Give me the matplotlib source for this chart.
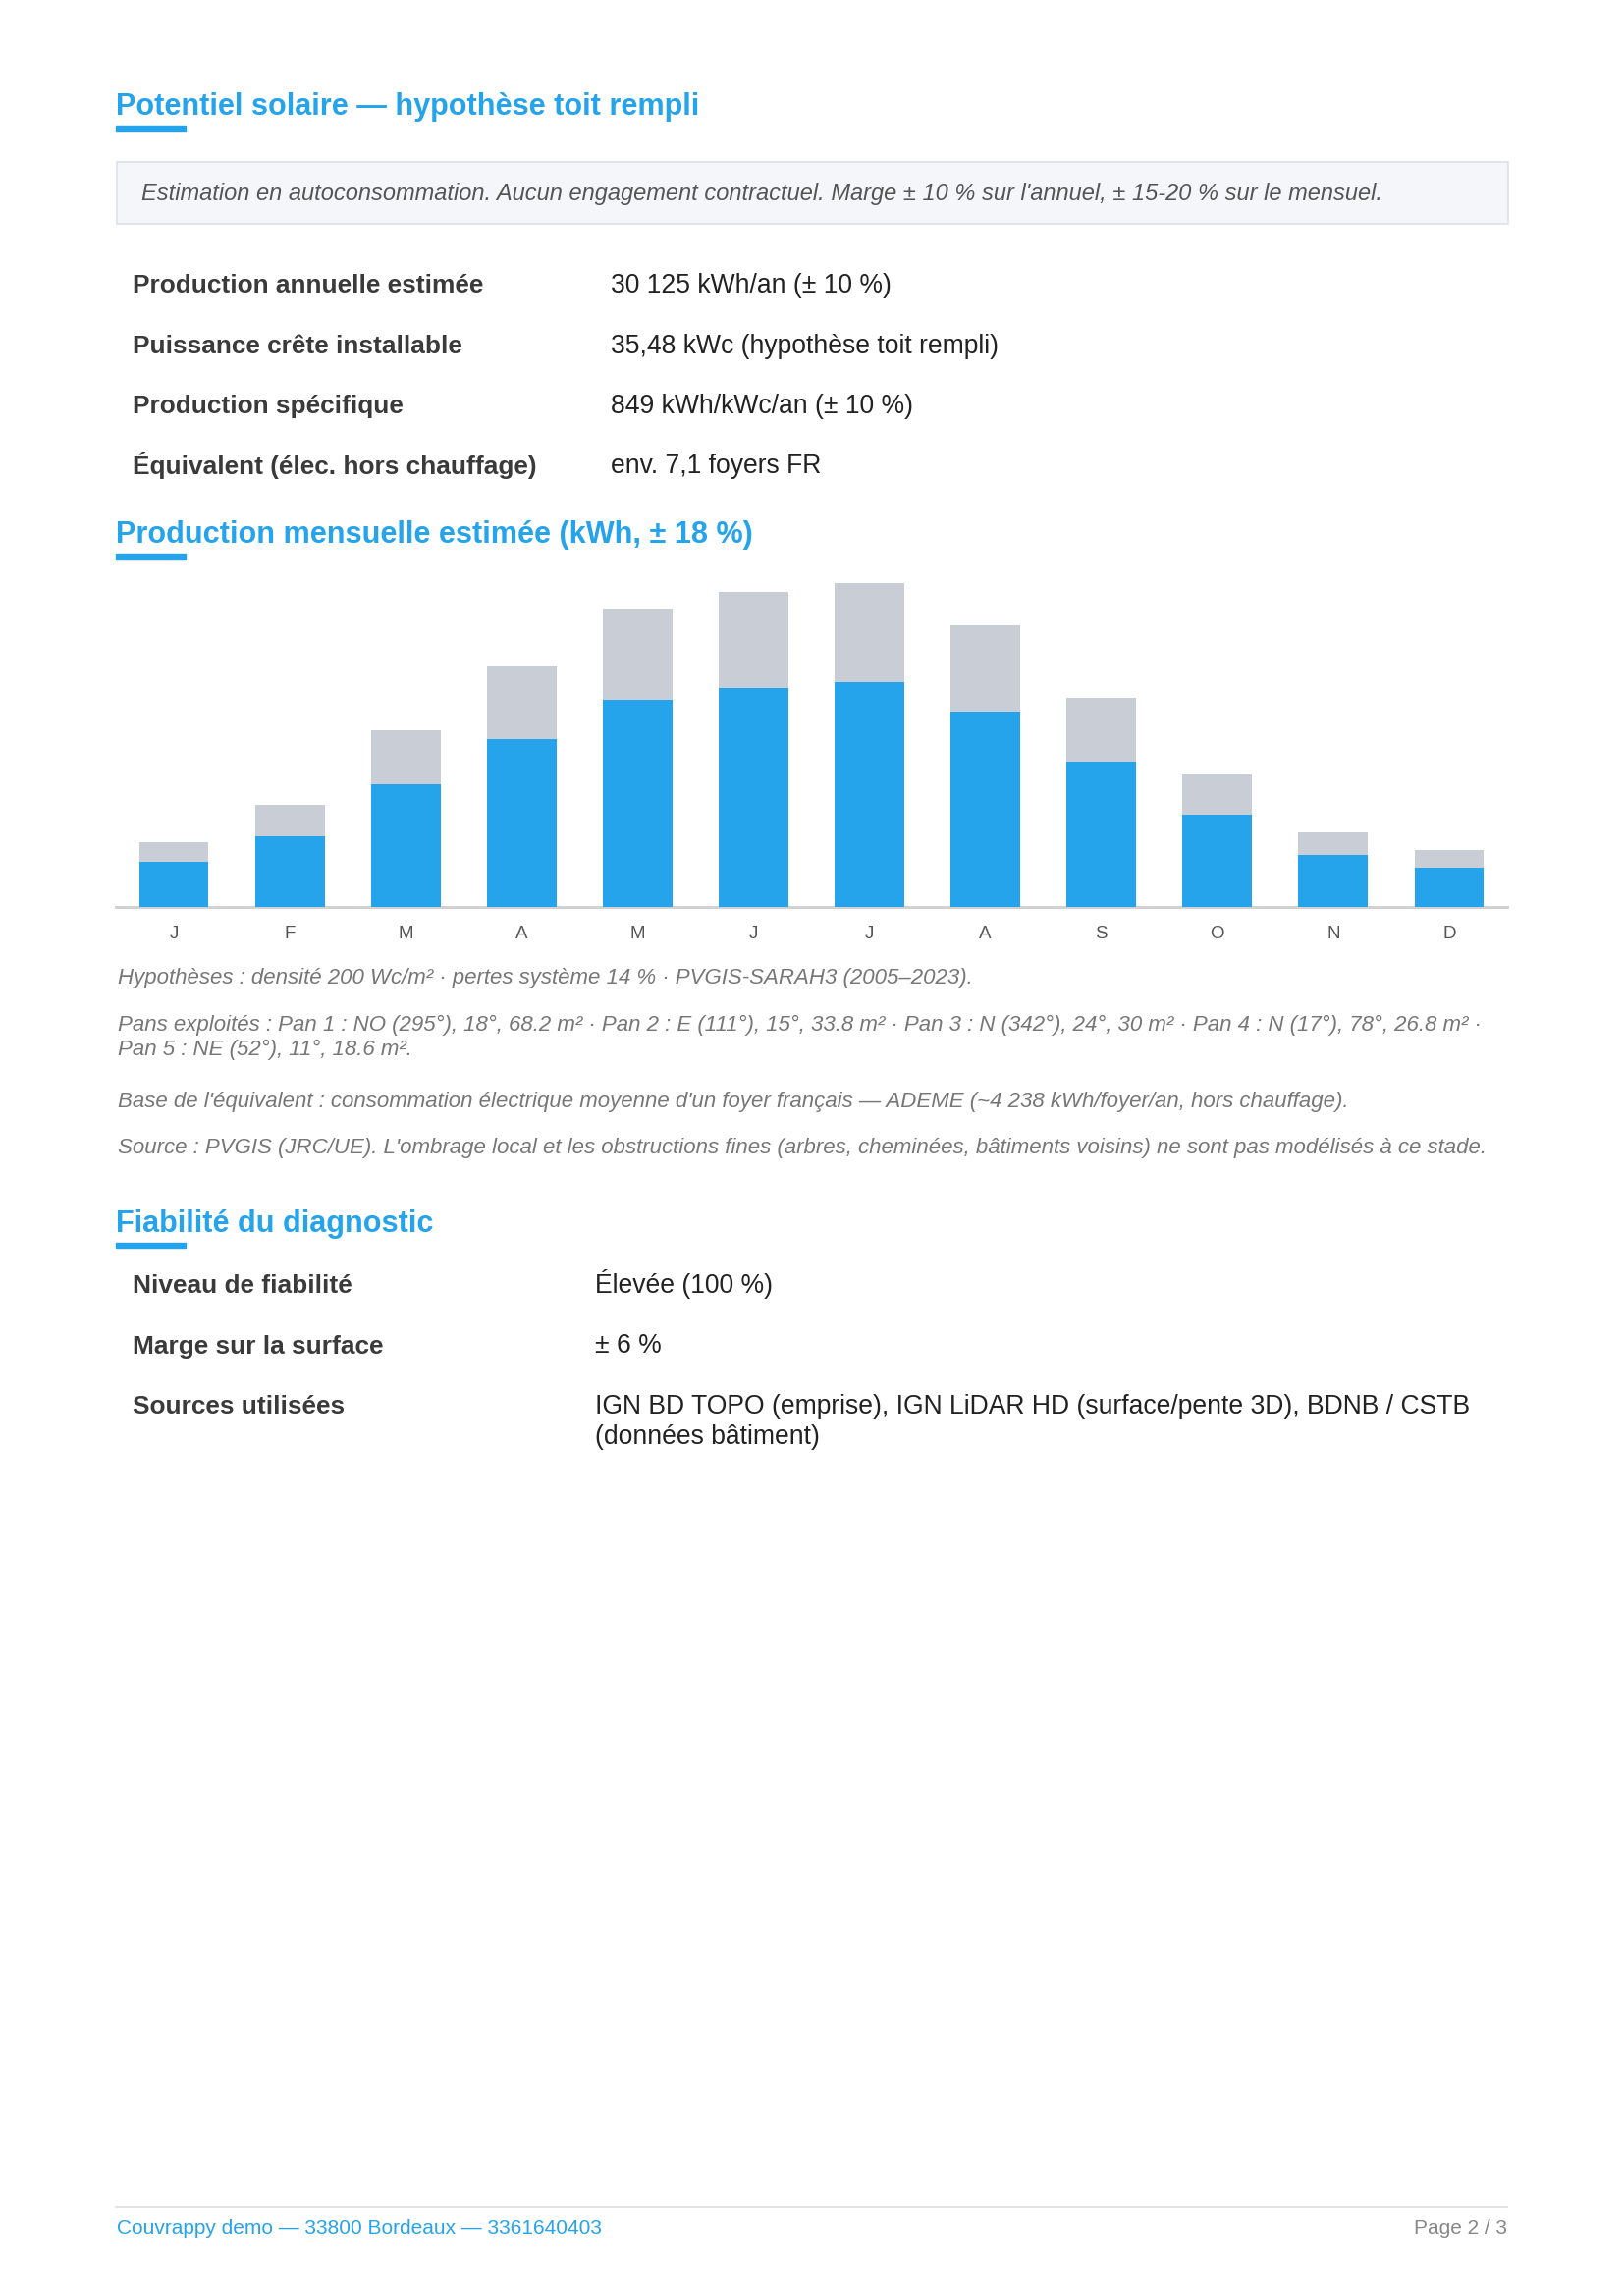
import matplotlib
matplotlib.use("Agg")
import matplotlib.pyplot as plt
from matplotlib.patches import Rectangle

W, H = 1654, 2339
LEFT, RIGHT = 118, 1535

BLUE = "#25a3eb"
GREY_BAR = "#c9ced6"

# monthly production, low bound (blue) and high bound (grey), kWh
months = ["J", "F", "M", "A", "M", "J", "J", "A", "S", "O", "N", "D"]
prod_low = [705, 1104, 1916, 2622, 3236, 3419, 3511, 3051, 2269, 1442, 813, 613]
prod_high = [1015, 1588, 2758, 3774, 4656, 4921, 5053, 4391, 3265, 2074, 1169, 883]

summary_labels = ["Production annuelle estimée", "Puissance crête installable",
                  "Production spécifique", "Équivalent (élec. hors chauffage)"]
summary_values = ["30 125 kWh/an (± 10 %)", "35,48 kWc (hypothèse toit rempli)",
                  "849 kWh/kWc/an (± 10 %)", "env. 7,1 foyers FR"]

fiab_labels = ["Niveau de fiabilité", "Marge sur la surface", "Sources utilisées"]
fiab_values = ["Élevée (100 %)", "± 6 %",
               "IGN BD TOPO (emprise), IGN LiDAR HD (surface/pente 3D), BDNB / CSTB\n(données bâtiment)"]

note = ("Estimation en autoconsommation. Aucun engagement contractuel. "
        "Marge ± 10 % sur l'annuel, ± 15-20 % sur le mensuel.")
footnotes = [
    "Hypothèses : densité 200 Wc/m² · pertes système 14 % · PVGIS-SARAH3 (2005–2023).",
    "Pans exploités : Pan 1 : NO (295°), 18°, 68.2 m² · Pan 2 : E (111°), 15°, 33.8 m² · "
    "Pan 3 : N (342°), 24°, 30 m² · Pan 4 : N (17°), 78°, 26.8 m² ·\nPan 5 : NE (52°), 11°, 18.6 m².",
    "Base de l'équivalent : consommation électrique moyenne d'un foyer français — ADEME "
    "(~4 238 kWh/foyer/an, hors chauffage).",
    "Source : PVGIS (JRC/UE). L'ombrage local et les obstructions fines (arbres, cheminées, "
    "bâtiments voisins) ne sont pas modélisés à ce stade.",
]

plt.rcParams['font.family'] = ['Liberation Sans', 'DejaVu Sans']

fig = plt.figure(figsize=(W / 100, H / 100), dpi=100)
fig.patch.set_facecolor("white")


def fx(x):
    return x / W


def fy(y):
    return 1 - y / H


def txt(x, y, s, size, color, weight="normal", style="normal", ha="left"):
    # y is the baseline in pixels from the top
    fig.text(fx(x), fy(y), s, fontsize=size, color=color, fontweight=weight,
             fontstyle=style, ha=ha, va="baseline")


def section_title(y, s):
    txt(LEFT, y, s, 22.1, BLUE, weight="bold")
    fig.patches.append(Rectangle((fx(LEFT), fy(y + 16)), fx(71), 5 / H,
                                 transform=fig.transFigure, color=BLUE))


# section 1
section_title(117, "Potentiel solaire — hypothèse toit rempli")
fig.patches.append(Rectangle((fx(LEFT + 0.5), fy(228)), fx(RIGHT - LEFT), 63 / H,
                             transform=fig.transFigure,
                             facecolor="#f4f6f9", edgecolor="#dde0e6", linewidth=1.2))
txt(144, 204, note, 17.0, "#555555", style="italic")

for i, (lab, val) in enumerate(zip(summary_labels, summary_values)):
    yb = 298 + i * 61.5
    txt(135, yb, lab, 18.95, "#3a3a3a", weight="bold")
    txt(622.5, yb, val, 19.1, "#222222")

# section 2: monthly chart
section_title(553, "Production mensuelle estimée (kWh, ± 18 %)")
ax = fig.add_axes([fx(LEFT), fy(924), fx(RIGHT - LEFT), 330 / H])
x = range(len(months))
ax.bar(x, prod_high, width=0.6, color=GREY_BAR, zorder=2)
ax.bar(x, prod_low, width=0.6, color=BLUE, zorder=3)
ax.axhline(0, color="#d0d0d0", linewidth=2.1, zorder=1, clip_on=False)
ax.set_xlim(-0.5, len(months) - 0.5)
ax.set_ylim(0, max(prod_high))
ax.set_xticks(list(x))
ax.set_xticklabels(months, fontsize=13.5, color="#555555")
ax.tick_params(axis="x", length=0, pad=14)
ax.set_yticks([])
for sp in ax.spines.values():
    sp.set_visible(False)
ax.patch.set_alpha(0)

foot_y = [1001.5, 1050, 1128, 1175]
for yb, s in zip(foot_y, footnotes):
    for k, line in enumerate(s.split("\n")):
        txt(120, yb + k * 25, line, 16.0, "#777777", style="italic")

# section 3
section_title(1255, "Fiabilité du diagnostic")
for i, (lab, val) in enumerate(zip(fiab_labels, fiab_values)):
    yb = 1317 + i * 61.5
    txt(135, yb, lab, 18.95, "#3a3a3a", weight="bold")
    for k, line in enumerate(val.split("\n")):
        txt(606.5, yb + k * 31, line, 19.1, "#222222")

# footer
fig.lines.append(plt.Line2D([fx(LEFT), fx(RIGHT)], [fy(2248), fy(2248)],
                            transform=fig.transFigure, color="#e2e2e2", linewidth=1.4))
txt(119, 2276, "Couvrappy demo — 33800 Bordeaux — 3361640403", 15, BLUE)
txt(RIGHT, 2276, "Page 2 / 3", 15, "#888888", ha="right")

fig.savefig("out.png", dpi=100)
